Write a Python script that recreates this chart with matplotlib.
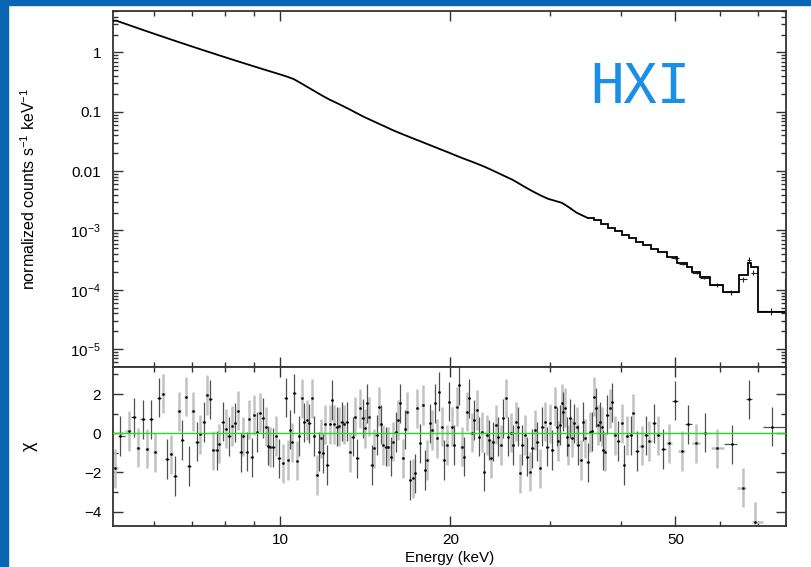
import numpy as np
import matplotlib.pyplot as plt
from matplotlib.patches import Rectangle
from matplotlib.ticker import FixedLocator, FuncFormatter, NullFormatter, LogLocator

plt.rcParams['font.family'] = ['Liberation Sans', 'DejaVu Sans']
plt.rcParams['mathtext.fontset'] = 'custom'
plt.rcParams['mathtext.rm'] = 'Liberation Sans'
plt.rcParams['mathtext.it'] = 'Liberation Sans:italic'
plt.rcParams['mathtext.default'] = 'regular'

# folded model (keV bin edges, counts s^-1 keV^-1)
model_edges = [
    5.070, 5.219, 5.370, 5.527, 5.689, 5.854, 6.026, 6.202, 6.383, 6.569,
    6.761, 6.958, 7.161, 7.370, 7.586, 7.807, 8.035, 8.269, 8.511, 8.759,
    9.016, 9.279, 9.550, 9.829, 10.12, 10.41, 10.72, 11.03, 11.35, 11.68,
    12.02, 12.38, 12.74, 13.11, 13.49, 13.89, 14.29, 14.71, 15.14, 15.58,
    16.03, 16.50, 16.98, 17.48, 17.99, 18.51, 19.05, 19.61, 20.18, 20.77,
    21.38, 22.00, 22.65, 23.31, 23.99, 24.69, 25.41, 26.15, 26.92, 27.70,
    28.51, 29.34, 30.20, 31.08, 31.99, 32.92, 33.88, 34.87, 35.89, 36.94,
    38.02, 39.13, 40.27, 41.45, 42.66, 43.90, 45.19, 46.51, 48.26,
    50.24, 52.35, 53.42, 55.25, 57.54, 60.75, 64.83, 67.25, 67.99, 70.04, 78.08,
]
model_rate = [
    3.428, 3.112, 2.829, 2.571, 2.339, 2.129, 1.938, 1.766, 1.610, 1.469,
    1.341, 1.225, 1.119, 1.023, 0.936, 0.857, 0.785, 0.719, 0.660, 0.605,
    0.555, 0.510, 0.469, 0.431, 0.395, 0.358, 0.307, 0.261, 0.223, 0.190,
    0.163, 0.143, 0.125, 0.109, 0.0942, 0.0817, 0.0721, 0.0635, 0.0561, 0.0494,
    0.0440, 0.0394, 0.0353, 0.0317, 0.0284, 0.0255, 0.0228, 0.0205, 0.0183, 0.0164,
    0.0148, 0.0133, 0.0119, 0.0105, 0.00923, 0.00811, 0.00714, 0.00608, 0.00518, 0.00446,
    0.00388, 0.00342, 0.00316, 0.00291, 0.00244, 0.00201, 0.00176, 0.00165, 0.00148, 0.00129,
    0.00112, 0.000982, 0.000855, 0.000746, 0.000650, 0.000568, 0.000494, 0.000427,
    0.000354, 0.000281, 0.000246, 0.000202, 0.000167, 0.000121, 0.0000933,
    0.000178, 0.000281, 0.000240, 0.0000430,
]

# high energy data points
spec_e = [50.0, 51.6, 54.6, 56.2, 59.1, 62.7, 65.7, 67.5, 68.6, 73.8, 78.2]
spec_lo = [49.2, 50.8, 53.4, 55.3, 57.5, 60.75, 64.83, 66.9, 68.0, 70.04, 78.08]
spec_hi = [50.8, 52.4, 55.3, 57.5, 60.75, 64.83, 66.9, 68.0, 70.0, 78.08, 78.4]
spec_rate = [3.4e-4, 2.73e-4, 1.95e-4, 1.6e-4, 1.22e-4, 9.1e-5, 1.51e-4, 3.2e-4,
             1.95e-4, 4.4e-5, 2.0e-5]
spec_dlo = [1.2e-5, 1.1e-5, 1.0e-5, 1.0e-5, 9e-6, 8e-6, 1.6e-5, 3.5e-5, 2.0e-5, 6e-6, 1.9e-5]
spec_dhi = [1.2e-5, 1.1e-5, 1.0e-5, 1.0e-5, 9e-6, 8e-6, 1.6e-5, 3.5e-5, 2.0e-5, 6e-6, 1.4e-4]

# residuals (data - model) / error
res_e = [
    5.11, 5.22, 5.41, 5.52, 5.62, 5.72, 5.82, 5.92, 6.01, 6.12,
    6.22, 6.31, 6.42, 6.52, 6.63, 6.72, 6.82, 6.91, 7.02, 7.13,
    7.23, 7.33, 7.43, 7.53, 7.63, 7.74, 7.82, 7.93, 8.02, 8.13,
    8.24, 8.33, 8.43, 8.53, 8.62, 8.73, 8.80, 8.92, 9.01, 9.10,
    9.22, 9.33, 9.44, 9.52, 9.62, 9.74, 9.83, 9.97, 10.11, 10.23,
    10.33, 10.43, 10.51, 10.60, 10.73, 10.82, 10.92, 11.03, 11.15, 11.25,
    11.40, 11.48, 11.61, 11.72, 11.81, 11.93, 12.01, 12.12, 12.26, 12.34,
    12.46, 12.59, 12.73, 12.85, 12.97, 13.12, 13.29, 13.44, 13.57, 13.70,
    13.85, 14.00, 14.13, 14.23, 14.36, 14.52, 14.66, 14.82, 14.96, 15.08,
    15.23, 15.37, 15.54, 15.71, 15.86, 16.01, 16.14, 16.29, 16.47, 16.63,
    16.79, 16.97, 17.16, 17.32, 17.48, 17.68, 17.87, 18.04, 18.21, 18.41,
    18.58, 18.79, 18.97, 19.12, 19.31, 19.51, 19.70, 19.89, 20.11, 20.30,
    20.52, 20.74, 20.95, 21.17, 21.38, 21.61, 21.82, 22.02, 22.27, 22.48,
    22.72, 22.94, 23.19, 23.41, 23.60, 23.82, 24.06, 24.31, 24.55, 24.81,
    25.06, 25.32, 25.57, 25.84, 26.10, 26.38, 26.56, 26.81, 27.10, 27.36,
    27.66, 27.92, 28.23, 28.49, 28.81, 29.08, 29.40, 29.68, 30.00, 30.28,
    30.62, 30.91, 31.03, 31.25, 31.47, 31.67, 31.89, 32.11, 32.32, 32.55,
    32.85, 33.08, 33.45, 33.67, 34.00, 34.36, 34.60, 34.98, 35.31, 35.55,
    35.89, 36.18, 36.43, 36.77, 37.03, 37.27, 37.53, 37.88, 38.30, 38.57,
    39.09, 39.62, 40.17, 40.55, 40.99, 41.67, 42.11, 42.80, 43.58, 44.35,
    44.94, 45.81, 46.62, 47.58, 48.75, 49.90, 51.28, 52.68, 54.35, 56.38,
    59.13, 62.85, 65.88, 67.51, 69.09, 73.96,
]
res_chi = [
    -1.79, -0.14, 0.12, 0.82, -0.73, 0.71, -0.78, 0.71, -0.97, 1.82,
    2.02, -1.31, -1.07, -2.18, 1.12, -0.34, 1.87, -1.67, 1.12, -0.43,
    -0.05, 0.58, 1.95, 1.73, -0.87, -0.87, -0.53, 0.59, 0.24, -0.15,
    0.37, 0.54, 1.15, -0.97, -0.15, -0.94, 0.71, -1.23, 0.93, 0.07,
    1.05, 0.78, 0.34, -0.63, -0.70, -0.71, -0.14, -1.28, -1.53, 1.82,
    -1.36, 0.18, -0.46, 2.04, -1.40, -0.14, 1.79, 0.56, 0.68, 0.51,
    1.79, -0.14, -2.13, -0.94, -0.26, -1.02, 0.46, -1.62, 0.46, 1.70,
    0.46, 0.34, 0.35, 0.59, 0.45, 0.59, -0.97, -0.17, 0.85, -1.28,
    1.28, 0.77, 0.26, 1.53, 0.85, -1.62, -0.77, -0.09, 1.36, 0.46,
    -0.60, -0.68, -0.68, -1.19, -0.43, 0.06, 0.68, 1.53, -1.28, 0.20,
    1.10, -2.38, -2.30, -2.04, 1.28, -0.51, 1.44, -1.87, -1.36, 0.51,
    0.17, 1.53, -0.26, 2.12, 0.34, -1.36, -0.60, 1.61, 0.34, -0.60,
    1.36, 2.46, -0.68, -1.19, 1.10, 1.79, 0.03, 0.68, 1.19, -0.17,
    0.06, -1.96, -0.09, -0.34, -1.28, -0.43, 0.43, -0.17, -0.60, 0.77,
    1.79, -0.17, 0.03, -0.60, 0.59, 0.34, -2.04, -0.60, -0.09, -1.19,
    -1.96, -0.77, 0.17, -0.43, -1.79, 0.34, 0.59, -0.68, 0.51, -0.85,
    1.36, 0.34, -0.39, 0.42, 1.53, 1.10, 1.31, -0.17, -0.60, 0.77,
    -0.22, 0.51, 0.34, -0.60, -1.36, 0.59, -0.26, -1.48, 0.06, 0.11,
    1.87, 1.31, 0.42, 0.59, 0.34, -0.85, -0.94, 0.94, 1.28, 1.58,
    -0.10, -0.39, 0.51, -1.62, -0.12, -0.10, 1.02, -0.90, -0.63, -0.10,
    -0.39, 0.51, -0.10, -0.80, -0.51, 1.66, -0.90, 0.46, -0.51, 0.03,
    -0.77, -0.56, -2.77, 1.73, -4.51, 0.34,
]

edges = np.array(model_edges)
rate = np.array(model_rate)
centers = np.sqrt(edges[:-1] * edges[1:])
# narrow bins below ~35 keV drawn as a line, wider bins above as steps
k = np.searchsorted(edges, 34.5)

e = np.array(res_e)
chi = np.array(res_chi)
mids = np.sqrt(e[:-1] * e[1:])
lo = np.concatenate([[edges[0]], mids])
hi = np.concatenate([mids, [edges[-1]]])
xerr = np.vstack([e - lo, hi - e])

fig = plt.figure(figsize=(8.12, 5.67), dpi=100)
ax1 = fig.add_axes([0.13916, 0.35273, 0.82882, 0.62787])
ax2 = fig.add_axes([0.13916, 0.07231, 0.82882, 0.28042], sharex=ax1)

# spectrum
line_x = np.concatenate([[edges[0]], centers[:k], [edges[k]]])
line_y = np.concatenate([[rate[0]], rate[:k], [rate[k]]])
ax1.plot(line_x, line_y, color='black', lw=1.3, zorder=3)
ax1.stairs(rate[k:], edges[k:], color='black', lw=1.3, baseline=None, zorder=3)
se = np.array(spec_e)
ax1.errorbar(se, spec_rate,
             xerr=[se - np.array(spec_lo), np.array(spec_hi) - se],
             yerr=[spec_dlo, spec_dhi],
             fmt='none', ecolor='#222222', elinewidth=0.8)
ax1.set_xscale('log')
ax1.set_yscale('log')
ax1.set_xlim(5.07, 78.4)
ax1.set_ylim(5e-6, 5)

ylabels = {1: '1', 0.1: '0.1', 0.01: '0.01'}
def ylab(v, pos):
    for key, s in ylabels.items():
        if np.isclose(v, key):
            return s
    return r'$10^{%d}$' % round(np.log10(v))
ax1.yaxis.set_major_locator(FixedLocator([1e-5, 1e-4, 1e-3, 1e-2, 1e-1, 1]))
ax1.yaxis.set_major_formatter(FuncFormatter(ylab))
ax1.yaxis.set_minor_locator(LogLocator(base=10, subs=np.arange(2, 10)))
ax1.yaxis.set_minor_formatter(NullFormatter())
ax1.set_ylabel('normalized counts s$^{-1}$ keV$^{-1}$', fontsize=11.5)
ax1.yaxis.set_label_coords(-0.112, 0.5)
ax1.text(0.709, 0.742, 'HXI', transform=ax1.transAxes, fontsize=40,
         color='#1a8fe6', family='DejaVu Sans Mono', va='baseline')

# residuals, two detectors alternating
a = np.arange(len(e)) % 2 == 0
b = ~a
ax2.errorbar(e[a], chi[a], yerr=1.0, xerr=xerr[:, a], fmt='none',
             ecolor='#c2c2c2', elinewidth=1.8)
ax2.errorbar(e[b], chi[b], yerr=1.0, xerr=xerr[:, b], fmt='none',
             ecolor='#505050', elinewidth=0.9)
ax2.plot(e, chi, ls='none', marker='s', ms=0.8, color='black')
ax2.axhline(0, color='#22dd22', lw=1.0, zorder=4)
ax2.set_ylim(-4.73, 3.38)
ax2.yaxis.set_major_locator(FixedLocator([-4, -2, 0, 2]))
ax2.yaxis.set_minor_locator(FixedLocator([-3, -1, 1, 3]))
ax2.xaxis.set_major_locator(FixedLocator([10, 20, 50]))
ax2.xaxis.set_minor_locator(FixedLocator([6, 7, 8, 9, 30, 40, 60, 70]))
ax2.xaxis.set_major_formatter(FuncFormatter(lambda v, p: '%g' % v))
ax2.xaxis.set_minor_formatter(NullFormatter())
ax2.set_xlabel('Energy (keV)', fontsize=11, va='top')
ax2.xaxis.set_label_coords(0.5, -0.157)
ax2.set_ylabel('χ', fontsize=13)
ax2.yaxis.set_label_coords(-0.112, 0.5)

for ax in (ax1, ax2):
    ax.tick_params(which='both', direction='in', top=True, right=True,
                   labelsize=11, color='#333333', width=1.0)
    ax.tick_params(which='major', length=7)
    ax.tick_params(which='minor', length=3.5)
    ax.tick_params(axis='y', which='major', pad=8.5)
    ax.tick_params(axis='x', which='major', pad=5)
    for sp in ax.spines.values():
        sp.set_color('#333333')
        sp.set_linewidth(1.3)
ax1.tick_params(labelbottom=False)

# blue frame
blue = '#0a66b2'
fig.patches.append(Rectangle((0, 0), 8 / 812, 1, transform=fig.transFigure,
                             color=blue, zorder=0))
fig.patches.append(Rectangle((0, 1 - 5 / 567), 1, 5 / 567, transform=fig.transFigure,
                             color=blue, zorder=0))

fig.savefig('out.png', dpi=100)
